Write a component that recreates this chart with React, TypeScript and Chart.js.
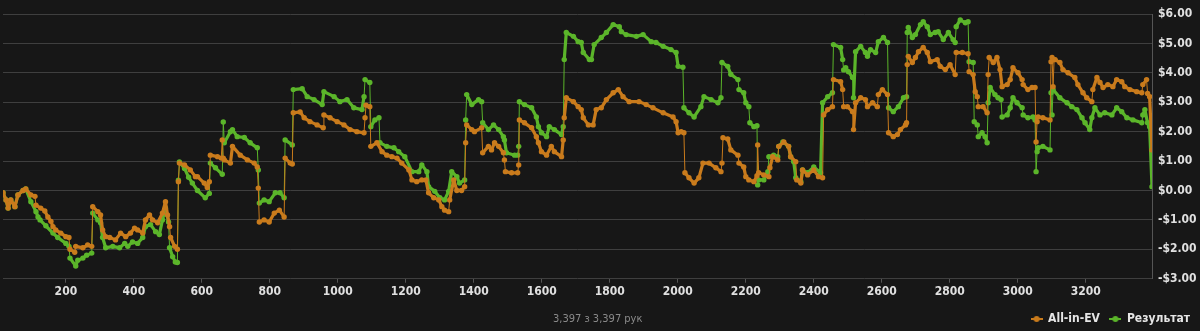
import React, { useEffect, useRef } from "react";
import { Chart, registerables } from "chart.js";

Chart.register(...registerables);

const seriesNames = ["All-in-EV", "Результат"];
const seriesColors = ["#c97b1c", "#5bb52a"];
const footerText = "3,397 з 3,397 рук";

const xTickValues = [200, 400, 600, 800, 1000, 1200, 1400, 1600, 1800, 2000, 2200, 2400, 2600, 2800, 3000, 3200];
const yTickValues = [-3, -2, -1, 0, 1, 2, 3, 4, 5, 6];

const evHands = [15, 24, 30, 38, 50, 59, 74, 82, 97, 109, 112, 126, 138, 147, 156, 162, 170, 185, 200, 209, 212, 226, 229, 250, 264, 276, 279, 294, 302, 308, 317, 329, 346, 361, 376, 390, 402, 411, 426, 434, 446, 455, 470, 484, 493, 499, 505, 508, 520, 528, 531, 534, 549, 566, 581, 587, 607, 616, 622, 625, 646, 657, 660, 663, 666, 684, 690, 713, 734, 754, 763, 766, 769, 783, 798, 813, 828, 842, 845, 860, 866, 869, 889, 901, 918, 939, 957, 959, 977, 998, 1018, 1036, 1056, 1077, 1080, 1083, 1094, 1097, 1115, 1130, 1144, 1159, 1174, 1188, 1209, 1218, 1232, 1247, 1259, 1267, 1282, 1297, 1306, 1314, 1326, 1329, 1341, 1350, 1364, 1373, 1376, 1379, 1394, 1402, 1423, 1426, 1443, 1452, 1461, 1473, 1487, 1490, 1493, 1511, 1529, 1532, 1534, 1549, 1570, 1584, 1590, 1599, 1614, 1628, 1637, 1658, 1663, 1666, 1672, 1693, 1707, 1716, 1722, 1737, 1751, 1760, 1775, 1790, 1810, 1825, 1839, 1857, 1886, 1907, 1927, 1957, 1986, 1995, 2001, 2010, 2018, 2021, 2033, 2048, 2062, 2074, 2092, 2112, 2127, 2130, 2133, 2147, 2156, 2177, 2180, 2194, 2200, 2209, 2224, 2233, 2235, 2238, 2253, 2268, 2271, 2279, 2294, 2297, 2312, 2326, 2332, 2347, 2350, 2362, 2367, 2382, 2400, 2414, 2426, 2429, 2441, 2455, 2458, 2479, 2485, 2488, 2499, 2514, 2517, 2523, 2538, 2552, 2558, 2573, 2587, 2590, 2602, 2617, 2620, 2634, 2646, 2655, 2670, 2673, 2675, 2678, 2690, 2699, 2708, 2722, 2734, 2743, 2763, 2772, 2787, 2801, 2816, 2819, 2837, 2854, 2857, 2869, 2875, 2881, 2884, 2898, 2910, 2913, 2916, 2928, 2939, 2948, 2954, 2969, 2978, 2986, 3001, 3013, 3016, 3030, 3042, 3051, 3054, 3057, 3060, 3074, 3095, 3098, 3101, 3104, 3107, 3110, 3124, 3133, 3148, 3168, 3177, 3192, 3203, 3218, 3221, 3233, 3242, 3251, 3265, 3280, 3291, 3306, 3315, 3330, 3350, 3365, 3368, 3379, 3382, 3388, 3395];
const evValues = [-0.08, -0.32, -0.6, -0.32, -0.55, -0.15, 0.0, 0.05, -0.15, -0.2, -0.5, -0.6, -0.7, -0.9, -1.05, -1.23, -1.34, -1.45, -1.57, -1.6, -2.0, -2.1, -1.9, -1.95, -1.85, -1.9, -0.55, -0.72, -0.83, -1.34, -1.57, -1.6, -1.68, -1.45, -1.57, -1.45, -1.28, -1.34, -1.45, -1.0, -0.83, -1.0, -1.1, -0.77, -0.38, -0.83, -1.23, -1.6, -1.9, -2.0, 0.3, 0.93, 0.87, 0.7, 0.47, 0.47, 0.25, 0.1, 0.3, 1.2, 1.15, 1.1, 1.72, 1.1, 1.04, 0.93, 1.5, 1.2, 1.04, 0.93, 0.8, 0.08, -1.07, -1.0, -1.07, -0.77, -0.67, -0.9, 1.1, 0.93, 0.9, 2.64, 2.67, 2.47, 2.34, 2.23, 2.13, 2.57, 2.47, 2.34, 2.23, 2.07, 2.0, 1.96, 2.47, 2.9, 2.85, 1.5, 1.62, 1.32, 1.2, 1.15, 1.1, 0.93, 0.7, 0.36, 0.3, 0.36, 0.36, -0.08, -0.25, -0.32, -0.55, -0.67, -0.72, -0.32, 0.36, 0.0, 0.0, 0.13, 1.62, 2.23, 2.07, 2.0, 2.13, 1.28, 1.5, 1.38, 1.62, 1.5, 1.28, 1.04, 0.64, 0.6, 0.6, 0.87, 2.4, 2.3, 2.13, 1.83, 1.62, 1.32, 1.2, 1.5, 1.32, 1.15, 1.72, 2.47, 3.15, 3.02, 2.85, 2.75, 2.47, 2.23, 2.23, 2.75, 2.81, 3.09, 3.32, 3.43, 3.19, 3.02, 3.02, 2.92, 2.81, 2.64, 2.5, 2.34, 1.96, 2.0, 1.96, 0.6, 0.43, 0.25, 0.43, 0.93, 0.93, 0.77, 0.64, 0.93, 1.79, 1.75, 1.38, 1.2, 0.93, 0.8, 0.47, 0.36, 0.3, 0.5, 1.55, 0.6, 0.53, 0.47, 0.77, 1.15, 1.04, 1.5, 1.65, 1.5, 1.15, 0.98, 0.36, 0.25, 0.7, 0.53, 0.7, 0.47, 0.43, 2.57, 2.75, 2.85, 3.77, 3.7, 3.43, 2.85, 2.85, 2.68, 2.07, 2.98, 3.15, 3.09, 2.85, 2.98, 2.85, 3.26, 3.43, 3.26, 1.96, 1.83, 1.9, 2.07, 2.23, 2.3, 4.28, 4.56, 4.35, 4.52, 4.72, 4.86, 4.69, 4.38, 4.45, 4.22, 4.11, 4.28, 3.94, 4.69, 4.69, 4.65, 4.04, 3.94, 3.36, 3.19, 2.85, 2.85, 2.64, 3.94, 4.52, 4.35, 4.52, 4.11, 3.53, 3.6, 3.77, 4.17, 4.0, 3.77, 3.6, 3.43, 3.5, 3.5, 1.65, 2.34, 2.5, 2.47, 2.4, 4.38, 4.52, 3.53, 4.45, 4.45, 4.35, 4.11, 4.0, 3.84, 3.6, 3.32, 3.15, 3.02, 3.43, 3.84, 3.67, 3.5, 3.6, 3.53, 3.77, 3.7, 3.53, 3.43, 3.36, 3.32, 3.6, 3.77, 3.3, 3.19, 1.38];

const resHands = [15, 24, 30, 38, 50, 59, 74, 82, 97, 112, 118, 124, 141, 162, 176, 200, 209, 212, 229, 235, 250, 261, 276, 279, 294, 302, 308, 317, 338, 358, 373, 382, 396, 411, 426, 434, 449, 464, 475, 484, 493, 502, 505, 514, 522, 528, 531, 534, 549, 561, 572, 587, 610, 622, 625, 640, 660, 663, 666, 684, 690, 704, 725, 742, 763, 766, 769, 783, 798, 816, 830, 842, 845, 866, 869, 895, 910, 930, 954, 959, 989, 1006, 1027, 1047, 1071, 1077, 1080, 1094, 1097, 1109, 1121, 1124, 1144, 1165, 1179, 1197, 1218, 1238, 1247, 1262, 1267, 1285, 1300, 1314, 1326, 1335, 1350, 1358, 1373, 1376, 1379, 1394, 1414, 1423, 1426, 1443, 1458, 1473, 1487, 1490, 1496, 1520, 1529, 1532, 1534, 1549, 1570, 1584, 1590, 1599, 1614, 1622, 1637, 1658, 1663, 1666, 1672, 1693, 1707, 1716, 1722, 1740, 1746, 1754, 1775, 1790, 1810, 1828, 1834, 1848, 1878, 1898, 1922, 1936, 1957, 1980, 1995, 2001, 2015, 2018, 2033, 2048, 2068, 2077, 2098, 2118, 2127, 2130, 2147, 2156, 2177, 2180, 2194, 2200, 2209, 2212, 2224, 2233, 2235, 2238, 2253, 2265, 2268, 2282, 2294, 2297, 2309, 2326, 2332, 2341, 2347, 2362, 2367, 2382, 2400, 2420, 2426, 2441, 2455, 2458, 2479, 2485, 2488, 2494, 2502, 2514, 2517, 2523, 2538, 2552, 2558, 2567, 2582, 2590, 2605, 2617, 2620, 2634, 2649, 2664, 2673, 2675, 2678, 2690, 2699, 2714, 2722, 2734, 2743, 2757, 2766, 2781, 2796, 2810, 2816, 2819, 2831, 2846, 2854, 2857, 2869, 2872, 2881, 2884, 2895, 2904, 2910, 2913, 2919, 2933, 2942, 2951, 2954, 2969, 2978, 2986, 2998, 3013, 3016, 3030, 3045, 3051, 3054, 3057, 3060, 3074, 3095, 3098, 3101, 3104, 3124, 3145, 3159, 3174, 3189, 3198, 3212, 3218, 3227, 3242, 3256, 3277, 3291, 3306, 3321, 3339, 3365, 3368, 3374, 3382, 3388, 3395];
const resValues = [-0.08, -0.32, -0.6, -0.32, -0.55, -0.15, 0.0, 0.05, -0.38, -0.72, -0.9, -1.0, -1.2, -1.45, -1.6, -1.8, -1.9, -2.3, -2.57, -2.37, -2.3, -2.2, -2.13, -0.77, -1.0, -1.1, -1.6, -1.95, -1.9, -1.95, -1.8, -1.9, -1.75, -1.8, -1.6, -1.23, -1.16, -1.4, -1.5, -1.0, -0.6, -1.07, -1.95, -2.25, -2.43, -2.45, 0.35, 0.97, 0.75, 0.45, 0.25, 0.0, -0.25, -0.1, 0.93, 0.77, 0.55, 2.33, 1.62, 2.0, 2.07, 1.83, 1.8, 1.62, 1.45, 0.7, -0.43, -0.32, -0.38, -0.08, -0.08, -0.25, 1.72, 1.55, 3.43, 3.46, 3.19, 3.09, 2.92, 3.36, 3.19, 3.02, 3.09, 2.81, 2.75, 3.19, 3.77, 3.67, 2.17, 2.4, 2.47, 1.62, 1.5, 1.45, 1.32, 1.15, 0.64, 0.64, 0.87, 0.64, 0.13, -0.03, -0.25, -0.32, -0.03, 0.64, 0.47, 0.25, 0.36, 2.4, 3.26, 2.92, 3.09, 3.02, 2.3, 2.07, 2.23, 2.07, 1.83, 1.72, 1.28, 1.2, 1.2, 1.5, 3.02, 2.92, 2.81, 2.5, 2.17, 1.96, 1.83, 2.17, 2.07, 1.9, 2.17, 4.45, 5.37, 5.24, 5.06, 5.03, 4.69, 4.45, 4.45, 4.96, 5.2, 5.37, 5.64, 5.57, 5.4, 5.3, 5.24, 5.3, 5.06, 5.03, 4.9, 4.79, 4.69, 4.22, 4.19, 2.81, 2.64, 2.5, 2.85, 3.19, 3.09, 2.98, 3.15, 4.35, 4.22, 3.95, 3.77, 3.43, 3.32, 2.98, 2.85, 2.3, 2.17, 2.2, 0.19, 0.36, 0.36, 0.64, 1.15, 1.2, 1.15, 1.5, 1.65, 1.5, 1.15, 0.98, 0.43, 0.3, 0.7, 0.6, 0.8, 0.6, 2.98, 3.19, 3.32, 4.96, 4.86, 4.45, 4.1, 4.17, 4.04, 3.84, 3.15, 4.72, 4.9, 4.69, 4.56, 4.79, 4.69, 5.06, 5.2, 5.03, 2.81, 2.68, 2.85, 3.15, 3.19, 5.37, 5.54, 5.2, 5.3, 5.64, 5.74, 5.57, 5.3, 5.37, 5.4, 5.13, 5.37, 5.13, 5.03, 5.57, 5.8, 5.7, 5.74, 4.38, 4.35, 2.34, 2.23, 1.83, 1.96, 1.83, 1.62, 2.98, 3.5, 3.26, 3.15, 3.09, 2.5, 2.57, 2.81, 3.15, 2.98, 2.81, 2.57, 2.47, 2.5, 2.4, 0.64, 1.32, 1.45, 1.5, 1.38, 3.32, 2.57, 3.43, 3.15, 2.98, 2.85, 2.75, 2.47, 2.3, 2.07, 2.47, 2.81, 2.57, 2.64, 2.57, 2.81, 2.68, 2.47, 2.4, 2.3, 2.57, 2.75, 2.3, 2.17, 0.13];

const FONT = '"Liberation Sans Narrow", "DejaVu Sans Condensed", "Liberation Sans", Arial, sans-serif';

function toPoints(hands: number[], values: number[]) {
  return hands.map((h, i) => ({ x: h, y: values[i] }));
}

function legendMarker(color: string) {
  const c = document.createElement("canvas");
  c.width = 12;
  c.height = 8;
  const g = c.getContext("2d")!;
  g.strokeStyle = color;
  g.lineWidth = 2;
  g.beginPath();
  g.moveTo(0, 4);
  g.lineTo(12, 4);
  g.stroke();
  g.fillStyle = color;
  g.beginPath();
  g.arc(6, 4, 3, 0, Math.PI * 2);
  g.fill();
  return c;
}

function money(v: number) {
  const s = "$" + Math.abs(v).toFixed(2);
  return v < 0 ? "-" + s : s;
}

function makeDataset(label: string, color: string, hands: number[], values: number[], segWidth: (ctx: any) => number) {
  return {
    label,
    data: toPoints(hands, values),
    borderColor: color,
    backgroundColor: color,
    pointRadius: 2.7,
    pointBorderWidth: 0,
    pointHoverRadius: 3,
    borderWidth: 3.2,
    borderCapStyle: "round",
    borderJoinStyle: "round",
    segment: { borderWidth: segWidth },
    tension: 0,
  };
}

export default function App() {
  const ref = useRef<HTMLCanvasElement | null>(null);

  useEffect(() => {
    document.body.style.margin = "0";
    document.body.style.background = "#171717";
    const canvas = ref.current;
    if (!canvas) return;
    const markers = seriesColors.map(legendMarker);
    const segWidth = (ctx: any) => {
      const dx = Math.abs(ctx.p1.x - ctx.p0.x);
      const dy = Math.abs(ctx.p1.y - ctx.p0.y);
      return dx < 1.6 && dy > 3 ? 1 : 3.2;
    };
    const chart = new Chart(canvas, {
      type: "line",
      data: {
        datasets: [
          makeDataset(seriesNames[0], seriesColors[0], evHands, evValues, segWidth),
          makeDataset(seriesNames[1], seriesColors[1], resHands, resValues, segWidth),
        ],
      },
      options: {
        responsive: false,
        animation: false,
        events: [],
        layout: { padding: { top: 14, bottom: -4, left: 0, right: 0 } },
        font: { family: FONT },
        scales: {
          x: {
            type: "linear",
            min: 15,
            max: 3395,
            afterBuildTicks: (scale: any) => {
              scale.ticks = xTickValues.map((v) => ({ value: v }));
            },
            afterFit: (scale: any) => {
              scale.height = 24.3;
            },
            grid: { drawOnChartArea: false, drawTicks: true, tickLength: 4, color: "#555" },
            border: { display: false },
            ticks: {
              color: "#e0e0e0",
              padding: 2,
              maxRotation: 0,
              autoSkip: false,
              font: { family: FONT, size: 12, weight: "bold" },
              callback: (v: any) => String(v),
            },
          },
          y: {
            position: "right",
            min: -3,
            max: 6,
            afterBuildTicks: (scale: any) => {
              scale.ticks = yTickValues.map((v) => ({ value: v }));
            },
            afterFit: (scale: any) => {
              scale.width = 48;
            },
            grid: { color: "#3f3f3f", lineWidth: 1, drawTicks: false },
            border: { display: true, color: "#555" },
            ticks: {
              color: "#e0e0e0",
              padding: 6,
              font: { family: FONT, size: 12, weight: "bold" },
              callback: (v: any) => money(Number(v)),
            },
          },
        },
        plugins: {
          tooltip: { enabled: false },
          legend: {
            position: "bottom",
            align: "end",
            labels: {
              color: "#e6e6e6",
              usePointStyle: true,
              pointStyleWidth: 11,
              padding: 10,
              font: { family: FONT, size: 12, weight: "bold" },
              generateLabels: (ch: any) =>
                ch.data.datasets.map((ds: any, i: number) => ({
                  text: ds.label,
                  fillStyle: seriesColors[i],
                  strokeStyle: seriesColors[i],
                  fontColor: "#e6e6e6",
                  lineWidth: 0,
                  pointStyle: markers[i],
                  hidden: false,
                  datasetIndex: i,
                })),
            },
          },
        },
      },
    } as any);
    return () => chart.destroy();
  }, []);

  return (
    <div style={{ position: "fixed", left: 0, top: 0, width: 1200, height: 331, background: "#171717", overflow: "hidden" }}>
      <canvas ref={ref} width={1200} height={331} style={{ display: "block", width: 1200, height: 331 }} />
      <div
        style={{
          position: "absolute",
          left: 553,
          top: 312,
          fontFamily: FONT,
          fontSize: 11,
          color: "#8a8a8a",
          whiteSpace: "nowrap",
          lineHeight: "14px",
        }}
      >
        {footerText}
      </div>
    </div>
  );
}
